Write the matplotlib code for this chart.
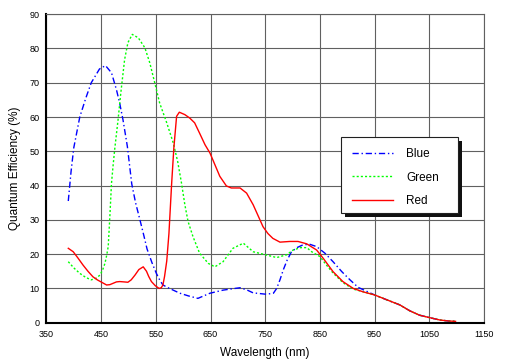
import matplotlib
matplotlib.use("Agg")
import matplotlib.pyplot as plt
import matplotlib.transforms as mtransforms
from matplotlib.patches import Rectangle

plt.rcParams['font.family'] = ['Liberation Sans', 'DejaVu Sans']

# shared tail where all three channels overlap
tail_wl = [950, 972, 996, 1014, 1032, 1050, 1069, 1085, 1098]
tail_qe = [8.1, 6.7, 5.2, 3.5, 2.2, 1.5, 0.8, 0.5, 0.4]

blue_wl = [390, 395, 400, 411, 422, 432, 447, 458, 469, 478, 484, 490, 498, 506,
           513, 521, 528, 534, 543, 551, 557, 563, 575, 594, 610, 627, 649, 673,
           690, 704, 716, 728, 752, 765, 771, 777, 783, 790, 798, 808, 819, 831,
           844, 859, 874, 890, 905, 920, 935] + tail_wl
blue_qe = [35.5, 44, 51, 60, 65.5, 70, 74, 75, 72.9, 68, 64, 59.2, 51.4, 40.5,
           35, 30, 25.5, 21.5, 17.5, 14.4, 12.5, 11, 10, 8.6, 7.8, 7.1, 8.6, 9.5,
           9.9, 10.2, 9.6, 8.7, 8.3, 8.6, 10, 12.5, 15.4, 18.2, 20.7, 21.9, 22.7, 22.9,
           22.2, 20.3, 17.8, 14.9, 12.5, 10.3, 9.2] + tail_qe

green_wl = [390, 400, 411, 422, 432, 441, 448, 453, 457, 460, 463, 466, 469, 472,
            475, 481, 486, 493, 499, 507, 518, 530, 539, 548, 557, 570, 582, 590,
            597, 603, 609, 618, 630, 646, 658, 673, 691, 710, 728, 746, 771, 789,
            801, 815, 826, 835, 850, 862, 874, 892, 911, 930] + tail_wl
green_qe = [17.8, 16, 14.4, 13.2, 12.5, 13, 13.9, 15.5, 17.3, 19.5, 22.2, 31, 40.7, 46,
            50.8, 59.2, 67, 76.8, 81.7, 84.1, 83.1, 80.2, 75.8, 70, 64.1, 58.3, 52.4, 47,
            40.7, 34.5, 29.5, 25.1, 20.3, 17.3, 16.3, 17.8, 21.7, 23.2, 20.7, 20, 19, 19.8,
            21.2, 21.9, 21.9, 20.7, 19.3, 16.8, 14.5, 11.7, 9.8, 9.0] + tail_qe

red_wl = [390, 399, 408, 417, 426, 435, 443, 451, 460, 466, 472, 478, 484, 492,
          499, 505, 512, 519, 527, 533, 537, 542, 549, 556, 560, 563, 566, 570,
          574, 579, 583, 588, 593, 603, 612, 621, 630, 640, 649, 658, 667, 679,
          688, 704, 716, 728, 739, 746, 755, 764, 777, 795, 810, 826, 844, 856,
          874, 892, 911, 929] + tail_wl
red_qe = [21.7, 20.7, 18.8, 16.8, 15, 13.4, 12.5, 11.8, 11, 11.1, 11.5, 11.9, 12, 11.9,
          11.8, 12.5, 13.9, 15.5, 16.3, 15, 13.5, 12, 10.8, 10, 10.2, 11, 13.5, 18,
          26, 40.7, 51, 60.2, 61.4, 60.7, 59.7, 58.3, 55.3, 51.9, 49.5, 46.1, 42.7, 39.9,
          39.3, 39.3, 37.8, 34.4, 30.5, 28, 26, 24.6, 23.5, 23.7, 23.7, 23.0, 21.2, 18.8,
          14.9, 12, 10, 9.0] + tail_qe

x_ticks = list(range(350, 1151, 100))
y_ticks = list(range(0, 91, 10))

fig = plt.figure(figsize=(5.1, 3.63), dpi=100)
ax = fig.add_axes([0.091, 0.111, 0.858, 0.850])

ax.plot(blue_wl, blue_qe, color='#0000ff', lw=1, dashes=(4.5, 2, 1, 2), label='Blue')
ax.plot(green_wl, green_qe, color='#00ff00', lw=1, dashes=(1.5, 1.5), label='Green')
ax.plot(red_wl, red_qe, color='#ff0000', lw=1, label='Red')

ax.set_xlim(350, 1150)
ax.set_ylim(0, 90)
ax.set_xticks(x_ticks)
ax.set_yticks(y_ticks)
ax.tick_params(length=0, labelsize=6.5, pad=5)
ax.grid(True, color='#606060', lw=0.8)
ax.set_axisbelow(True)

for s in ['top', 'right']:
    ax.spines[s].set_color('#606060')
    ax.spines[s].set_linewidth(0.8)
for s in ['left', 'bottom']:
    ax.spines[s].set_color('black')
    ax.spines[s].set_linewidth(1.5)

ax.set_xlabel('Wavelength (nm)', fontsize=8.5, labelpad=6)
ax.set_ylabel('Quantum Efficiency (%)', fontsize=8.5, labelpad=6)

# legend box drawn by hand: frame + black drop shadow
box = (0.6735, 0.356, 0.267, 0.246)
shadow_tr = mtransforms.offset_copy(ax.transAxes, fig=fig, x=4, y=-4, units='dots')
ax.add_patch(Rectangle(box[:2], box[2], box[3], transform=shadow_tr,
                       facecolor='#111111', edgecolor='none', zorder=4.8, clip_on=False))
ax.add_patch(Rectangle(box[:2], box[2], box[3], transform=ax.transAxes,
                       facecolor='white', edgecolor='#202020', lw=0.8, zorder=4.9,
                       clip_on=False))

leg = ax.legend(loc='upper left', bbox_to_anchor=(0.6977, 0.567), frameon=False,
                borderpad=0, borderaxespad=0, fontsize=8.5, handlelength=3.5,
                handletextpad=1.1, labelspacing=1.0)

fig.savefig('out.png', dpi=100)
